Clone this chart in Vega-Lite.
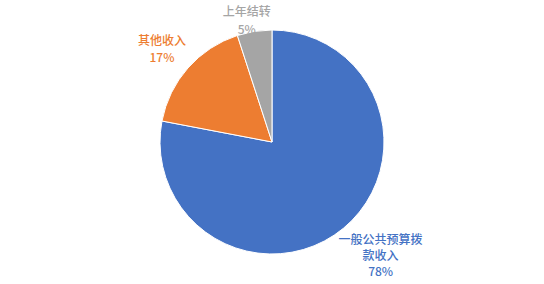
{
  "$schema": "https://vega.github.io/schema/vega-lite/v6.json",
  "width": 543,
  "height": 283,
  "autosize": "none",
  "padding": 0.5,
  "background": "white",
  "config": {"view": {"stroke": "#D9D9D9", "strokeWidth": 1}},
  "data": {
    "values": [
      {"name": "一般公共预算拨款收入", "value": 78, "label": "一般公共预算拨\n款收入\n78%"},
      {"name": "其他收入", "value": 17, "label": "其他收入\n17%"},
      {"name": "上年结转", "value": 5, "label": "上年结转\n5%"}
    ]
  },
  "encoding": {
    "theta": {"field": "value", "type": "quantitative", "stack": true},
    "order": {"field": "value", "type": "quantitative", "sort": "descending"},
    "color": {
      "field": "name",
      "type": "nominal",
      "scale": {"domain": ["一般公共预算拨款收入", "其他收入", "上年结转"], "range": ["#4472C4", "#ED7D31", "#A5A5A5"]},
      "legend": null
    }
  },
  "layer": [
    {"mark": {"type": "arc", "outerRadius": 112, "stroke": "white", "strokeWidth": 1}},
    {
      "mark": {"type": "text", "radius": 150, "dx": 13, "dy": -18, "fontSize": 12, "font": "Noto Sans CJK SC", "fontWeight": 500, "lineBreak": "\n", "lineHeight": 16, "align": "center", "baseline": "middle"},
      "encoding": {"text": {"condition": {"test": "datum.name === '一般公共预算拨款收入'", "field": "label"}, "value": ""}}
    },
    {
      "mark": {"type": "text", "radius": 140, "dx": -5, "dy": -8, "fontSize": 12, "font": "Noto Sans CJK SC", "fontWeight": 500, "lineBreak": "\n", "lineHeight": 17, "align": "center", "baseline": "middle"},
      "encoding": {"text": {"condition": {"test": "datum.name === '其他收入'", "field": "label"}, "value": ""}}
    },
    {
      "mark": {"type": "text", "radius": 123, "dx": -6, "dy": -9, "fontSize": 12, "font": "Noto Sans CJK SC", "fontWeight": 500, "lineBreak": "\n", "lineHeight": 18, "align": "center", "baseline": "middle"},
      "encoding": {"text": {"condition": {"test": "datum.name === '上年结转'", "field": "label"}, "value": ""}}
    }
  ]
}
